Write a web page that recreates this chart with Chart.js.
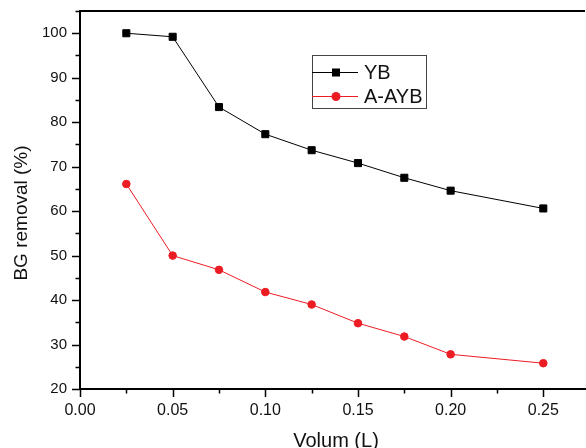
<!DOCTYPE html>
<html>
<head>
<meta charset="utf-8">
<script src="https://cdn.jsdelivr.net/npm/chart.js@4"></script>
<style>
  body { margin: 0; background: #fff; overflow: hidden; }
  #chart { display: block; }
</style>
</head>
<body>
<canvas id="chart" width="591" height="448"></canvas>
<script>
const ctx = document.getElementById('chart');

// values
const volumes = [0.025, 0.05, 0.075, 0.10, 0.125, 0.15, 0.175, 0.20, 0.25];
const ybRemoval = [100, 99.2, 83.4, 77.3, 73.7, 70.8, 67.5, 64.6, 60.6];
const aaybRemoval = [66.1, 50.0, 46.8, 41.8, 39.0, 34.8, 31.8, 27.8, 25.8];
const seriesNames = ['YB', 'A-AYB'];
const xTickValues = [0, 0.05, 0.10, 0.15, 0.20, 0.25];
const yTickValues = [20, 30, 40, 50, 60, 70, 80, 90, 100];
const xTitle = 'Volum (L)';
const yTitle = 'BG removal (%)';

const red = '#ec1c24';
const font = '"Liberation Sans", Arial, sans-serif';

const toPoints = ys => volumes.map((x, i) => ({ x: x, y: ys[i] }));

// minor + major ticks, top frame, titles and the boxed legend
const framePlugin = {
    id: 'frame',
    afterDraw(chart) {
        const c = chart.ctx;
        const a = chart.chartArea;
        const xs = chart.scales.x;
        const ys = chart.scales.y;
        c.save();
        c.strokeStyle = '#000';
        c.lineWidth = 1.5;
        c.beginPath();
        for (let i = 0; i * 0.025 <= xs.max + 1e-9; i++) {
            const px = Math.round(xs.getPixelForValue(i * 0.025)) + 0.5;
            const len = i % 2 === 0 ? 8 : 4.5;
            c.moveTo(px, a.bottom);
            c.lineTo(px, a.bottom + len);
        }
        for (let v = 20; v <= ys.max + 1e-9; v += 5) {
            const py = Math.round(ys.getPixelForValue(v)) + 0.5;
            const len = v % 10 === 0 ? 8 : 4.5;
            c.moveTo(a.left, py);
            c.lineTo(a.left - len, py);
        }
        c.stroke();
        // top frame
        c.lineWidth = 2;
        c.beginPath();
        c.moveTo(a.left - 1, a.top);
        c.lineTo(a.right, a.top);
        c.stroke();

        // axis titles
        c.fillStyle = '#111';
        c.font = '20px ' + font;
        c.textAlign = 'center';
        c.textBaseline = 'alphabetic';
        c.fillText(xTitle, 336, 447);
        c.save();
        c.translate(27, 213);
        c.rotate(-Math.PI / 2);
        c.font = '19px ' + font;
        c.fillText(yTitle, 0, 0);
        c.restore();

        // legend
        const lx = 312, ly = 55, lw = 114, lh = 53;
        c.lineWidth = 1;
        c.strokeStyle = '#444';
        c.strokeRect(lx + 0.5, ly + 0.5, lw, lh);
        const rows = [72, 96];
        chart.data.datasets.forEach((ds, i) => {
            const y = rows[i] + 0.5;
            c.strokeStyle = ds.borderColor;
            c.lineWidth = 1;
            c.beginPath();
            c.moveTo(lx, y);
            c.lineTo(358, y);
            c.stroke();
            c.fillStyle = ds.pointBackgroundColor;
            c.beginPath();
            if (ds.pointStyle === 'rect') {
                c.rect(332, y - 4, 8, 8);
            } else {
                c.arc(336, y, 4.5, 0, Math.PI * 2);
            }
            c.fill();
            c.fillStyle = '#111';
            c.font = '20px ' + font;
            c.textAlign = 'left';
            c.textBaseline = 'middle';
            c.fillText(ds.label, 364, y + 1);
        });
        c.restore();
    }
};

const config = {
    type: 'line',
    data: {
        datasets: [
            {
                label: seriesNames[0],
                data: toPoints(ybRemoval),
                borderColor: '#000',
                borderWidth: 1,
                pointStyle: 'rect',
                pointRadius: 5,
                pointBorderWidth: 1,
                pointBackgroundColor: '#000',
                pointBorderColor: '#000',
                tension: 0
            },
            {
                label: seriesNames[1],
                data: toPoints(aaybRemoval),
                borderColor: red,
                borderWidth: 1,
                pointStyle: 'circle',
                pointRadius: 3.8,
                pointBorderWidth: 1,
                pointBackgroundColor: red,
                pointBorderColor: red,
                tension: 0
            }
        ]
    },
    options: {
        responsive: false,
        animation: false,
        layout: { padding: { top: 11, right: 0, left: 0, bottom: 0 } },
        plugins: {
            legend: { display: false },
            tooltip: { enabled: false }
        },
        scales: {
            x: {
                type: 'linear',
                min: 0,
                max: 0.2725,
                afterFit: s => { s.height = 59; s.paddingLeft = 0; s.paddingRight = 0; },
                afterBuildTicks: s => { s.ticks = xTickValues.map(v => ({ value: v })); },
                grid: { display: false, drawTicks: false },
                border: { display: true, color: '#000', width: 2 },
                ticks: {
                    padding: 12,
                    color: '#111',
                    font: { family: font, size: 16 },
                    maxRotation: 0,
                    autoSkip: false,
                    callback: v => v.toFixed(2)
                }
            },
            y: {
                min: 20,
                max: 105,
                afterFit: s => { s.width = 80; s.paddingTop = 0; s.paddingBottom = 0; },
                afterBuildTicks: s => { s.ticks = yTickValues.map(v => ({ value: v })); },
                grid: { display: false, drawTicks: false },
                border: { display: true, color: '#000', width: 2 },
                ticks: {
                    padding: 13,
                    color: '#111',
                    font: { family: font, size: 15 },
                    autoSkip: false,
                    callback: v => v
                }
            }
        }
    },
    plugins: [framePlugin]
};

const myChart = new Chart(ctx, config);
</script>
</body>
</html>
